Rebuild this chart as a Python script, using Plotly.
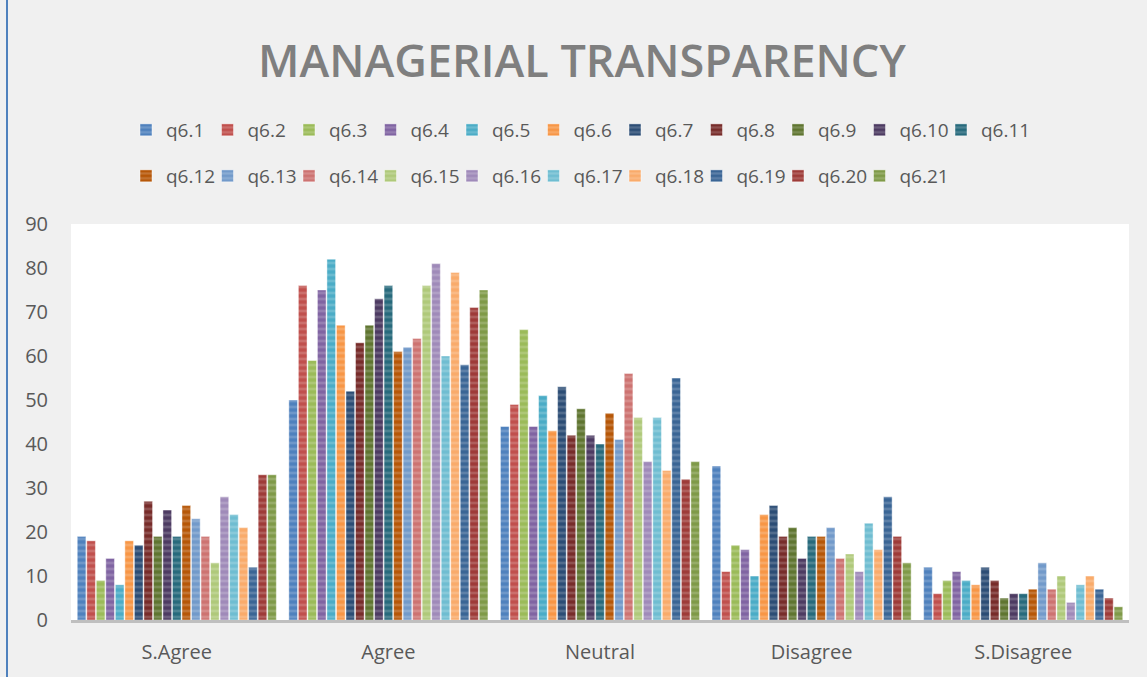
import plotly.graph_objects as go

categories = ["S.Agree", "Agree", "Neutral", "Disagree", "S.Disagree"]
series_names = ["q6.%d" % i for i in range(1, 22)]

s_agree = [19, 18, 9, 14, 8, 18, 17, 27, 19, 25, 19, 26, 23, 19, 13, 28, 24, 21, 12, 33, 33]
agree = [50, 76, 59, 75, 82, 67, 52, 63, 67, 73, 76, 61, 62, 64, 76, 81, 60, 79, 58, 71, 75]
neutral = [44, 49, 66, 44, 51, 43, 53, 42, 48, 42, 40, 47, 41, 56, 46, 36, 46, 34, 55, 32, 36]
disagree = [35, 11, 17, 16, 10, 24, 26, 19, 21, 14, 19, 19, 21, 14, 15, 11, 22, 16, 28, 19, 13]
s_disagree = [12, 6, 9, 11, 9, 8, 12, 9, 5, 6, 6, 7, 13, 7, 10, 4, 8, 10, 7, 5, 3]

y_ticks = [0, 10, 20, 30, 40, 50, 60, 70, 80, 90]

colors = ["#4F81BD", "#C0504D", "#9BBB59", "#8064A2", "#4BACC6", "#F79646",
          "#2C4D75", "#772C2A", "#5F7530", "#4D3B62", "#276A7C", "#B65708",
          "#729ACA", "#CD7371", "#AFC97A", "#9F8AB9", "#6FBDD1", "#F9AB6B",
          "#3A6595", "#9E3B38", "#7F9A48"]

W, H = 1147, 677
L, R, T, B = 71, 18, 224, 57
pw, ph = W - L - R, H - T - B

fig = go.Figure()
for i, name in enumerate(series_names):
    vals = [s_agree[i], agree[i], neutral[i], disagree[i], s_disagree[i]]
    fig.add_trace(go.Bar(
        x=categories, y=vals, name=name,
        legend="legend" if i < 11 else "legend2",
        marker=dict(
            color=colors[i],
            line=dict(color="rgba(255,255,255,0.55)", width=0.8),
            pattern=dict(shape="-", fillmode="overlay", fgcolor="rgba(255,255,255,0.35)",
                         size=6, solidity=0.45),
        ),
        hovertemplate=name + " %{x}: %{y}<extra></extra>",
    ))

# invisible spacer entries so the last legend label in each row is not clipped
for lg in ("legend", "legend2"):
    fig.add_trace(go.Scatter(x=[None], y=[None], mode="markers", name=" ",
                             marker=dict(color="rgba(0,0,0,0)", size=1,
                                         line=dict(width=0, color="rgba(0,0,0,0)")),
                             legend=lg, hoverinfo="skip"))

legend_font = dict(family="Open Sans", size=19, color="#595959")
lx = (126 - L) / pw
ew = 36.5
fig.update_layout(
    width=W, height=H,
    margin=dict(l=L, r=R, t=T, b=B, autoexpand=False),
    paper_bgcolor="#F0F0F0",
    plot_bgcolor="#FFFFFF",
    barmode="group",
    bargap=0.055,
    bargroupgap=0.09,
    title=dict(text="MANAGERIAL TRANSPARENCY", x=582 / W, xanchor="center",
               y=1 - 61 / H, yanchor="middle", xref="container", yref="container",
               font=dict(family="Open Sans", size=45, weight=600, color="#7F7F7F")),
    legend=dict(orientation="h", x=lx, xanchor="left", y=1 + (T - 130) / ph, yanchor="middle",
                font=legend_font, entrywidth=ew, entrywidthmode="pixels",
                bgcolor="rgba(0,0,0,0)", traceorder="normal", itemclick=False, itemdoubleclick=False),
    legend2=dict(orientation="h", x=lx, xanchor="left", y=1 + (T - 176) / ph, yanchor="middle",
                 font=legend_font, entrywidth=ew, entrywidthmode="pixels",
                 bgcolor="rgba(0,0,0,0)", traceorder="normal", itemclick=False, itemdoubleclick=False),
    xaxis=dict(showline=True, linecolor="#BFBFBF", linewidth=3, showgrid=False,
               tickfont=dict(family="Open Sans", size=20, color="#595959"),
               ticks="outside", ticklen=12, tickcolor="rgba(0,0,0,0)", fixedrange=True),
    yaxis=dict(range=[0, 90], tickvals=y_ticks, showgrid=False, zeroline=False,
               tickfont=dict(family="Open Sans", size=20, color="#595959"),
               ticklabelstandoff=22, fixedrange=True),
    shapes=[dict(type="line", xref="paper", yref="paper",
                 x0=(7 - L) / pw, x1=(7 - L) / pw, y0=-B / ph, y1=1 + T / ph,
                 line=dict(color="#4F81BD", width=2))],
)

fig.write_html("out.html", config={"displayModeBar": False},
               post_script="document.body.style.margin='0';")
